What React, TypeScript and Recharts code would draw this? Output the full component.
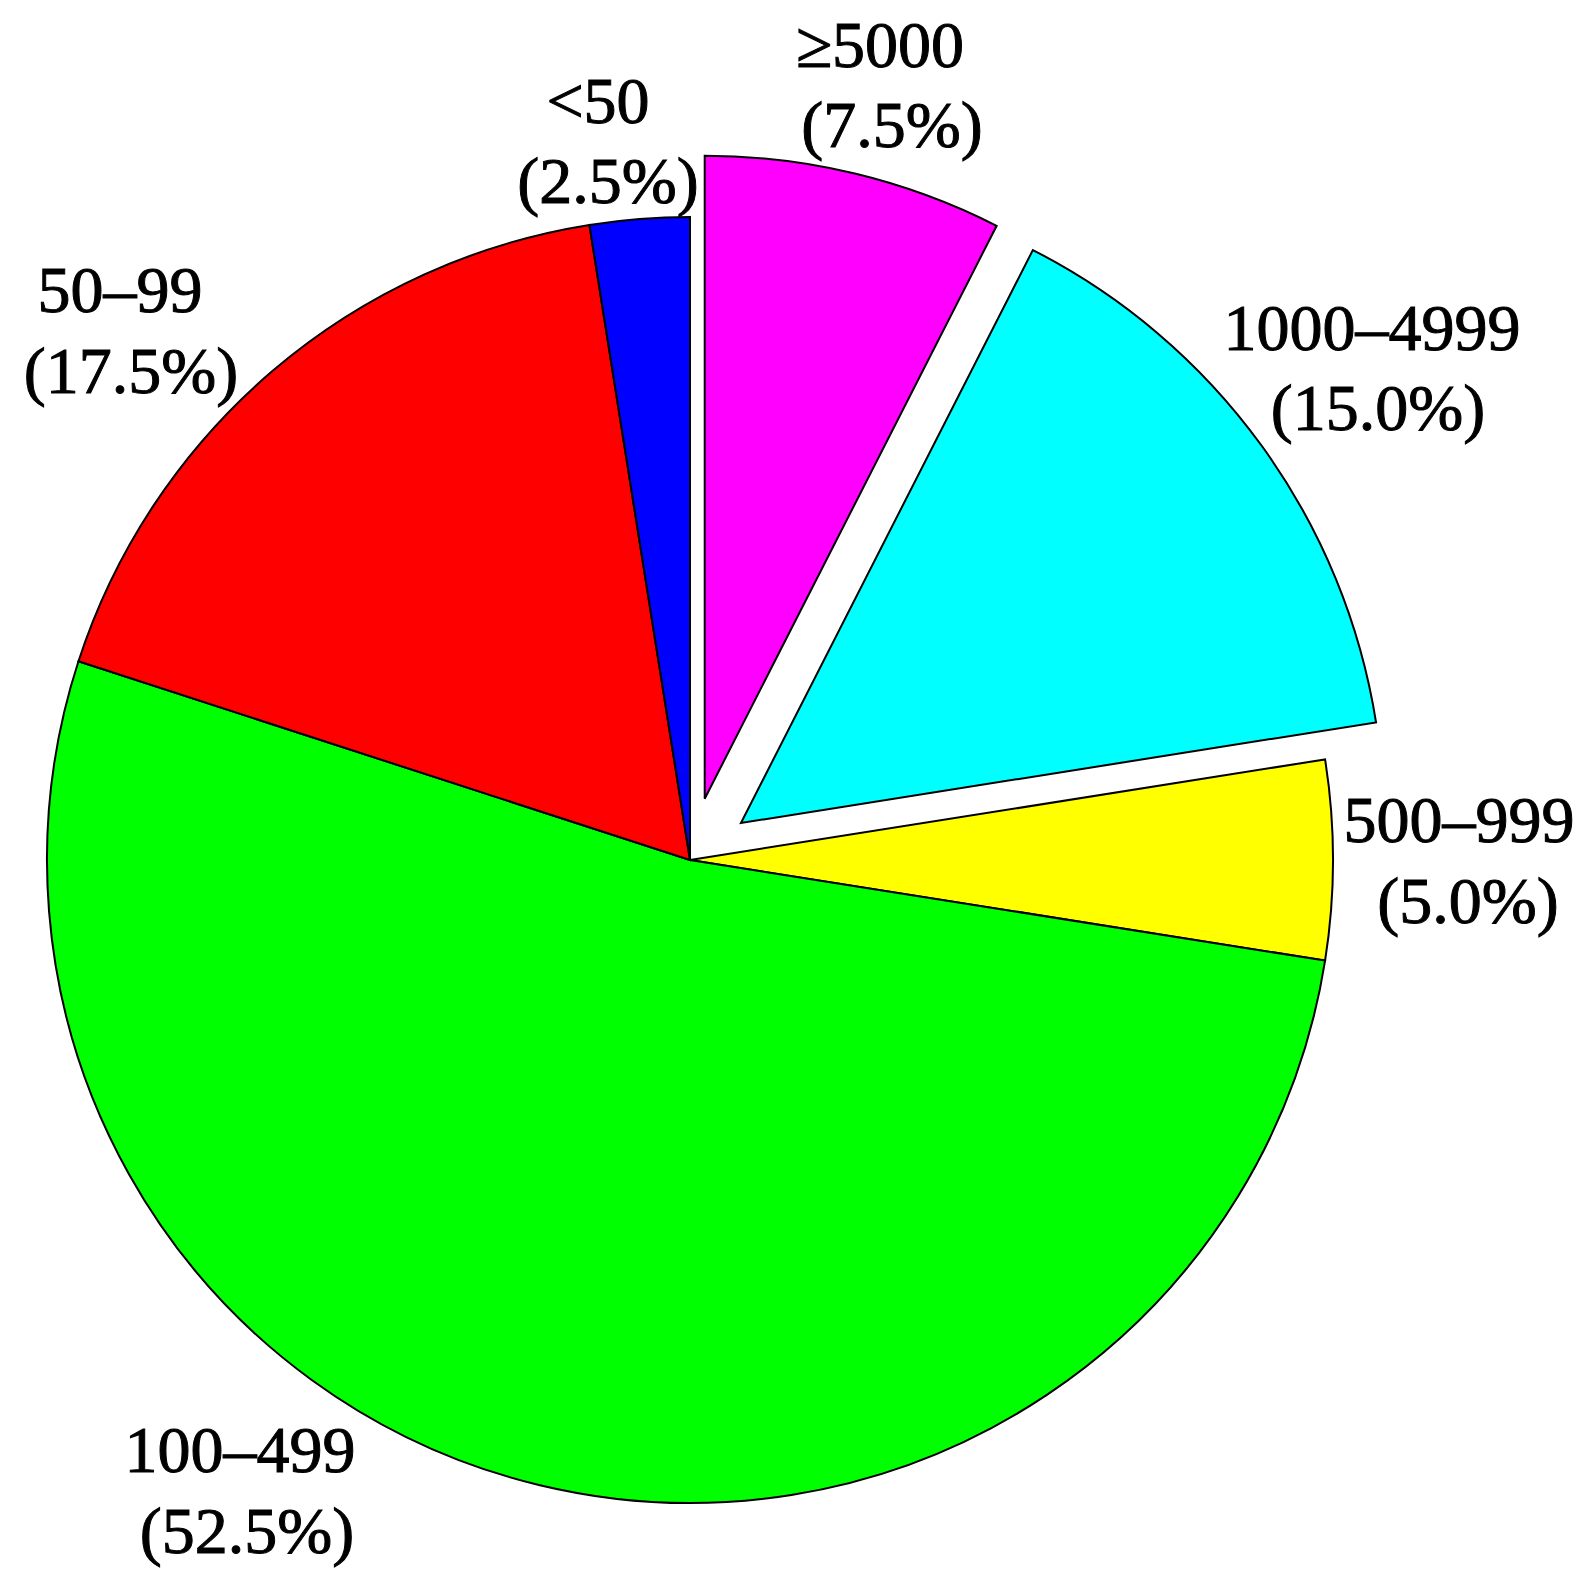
import React from "react";
import { PieChart, Pie, Cell } from "recharts";

const categories = ["≥5000", "1000–4999", "500–999", "100–499", "50–99", "<50"];
const shares = [7.5, 15.0, 5.0, 52.5, 17.5, 2.5];
const colors = ["#FF00FF", "#00FFFF", "#FFFF00", "#00FF00", "#FF0000", "#0000FF"];
const explodedIdx = [0, 1];

const data = categories.map((name, i) => ({ name, value: shares[i] }));

// layout constants
const W = 1591;
const H = 1577;
const CX = 690;
const CY = 860;
const R = 643;
const EXPLODE = 63;
const FONT = 66;
// label line positions relative to the pie centre: [x1, y1, x2, y2]
const labelLayout = [
  [190, -793, 202, -713],
  [682, -510, 688, -430],
  [769, -18, 778, 63],
  [-450, 612, -443, 693],
  [-570, -548, -559, -467],
  [-92, -737, -82, -657],
];

const total = shares.reduce((a, b) => a + b, 0);
const midAngle = (i: number) => {
  const before = shares.slice(0, i).reduce((a, b) => a + b, 0);
  return ((before + shares[i] / 2) / total) * 2 * Math.PI;
};

const renderLabel = (props: any) => {
  const { index, cx, cy, value } = props;
  const l = labelLayout[index];
  const pct = `(${((value / total) * 100).toFixed(1)}%)`;
  const style = {
    fontFamily: "'Liberation Serif', 'DejaVu Serif', serif",
    fontSize: FONT,
    fill: "#000",
    stroke: "#000",
    strokeWidth: 1,
  };
  return (
    <g key={`lbl-${index}`}>
      <text x={cx + l[0]} y={cy + l[1]} textAnchor="middle" style={style}>
        {categories[index]}
      </text>
      <text x={cx + l[2]} y={cy + l[3]} textAnchor="middle" style={style}>
        {pct}
      </text>
    </g>
  );
};

export default function App() {
  return (
    <div style={{ position: "absolute", left: 0, top: 0, width: W, height: H, background: "#fff" }}>
      <PieChart width={W} height={H} margin={{ top: 0, right: 0, bottom: 0, left: 0 }}>
        <Pie
          data={data}
          dataKey="value"
          nameKey="name"
          cx={CX}
          cy={CY}
          outerRadius={R}
          startAngle={90}
          endAngle={-270}
          isAnimationActive={false}
          label={renderLabel}
          labelLine={false}
        >
          {data.map((d, i) => (
            <Cell
              key={`base-${i}`}
              fill={explodedIdx.includes(i) ? "none" : colors[i]}
              stroke={explodedIdx.includes(i) ? "none" : "#000"}
              strokeWidth={2}
            />
          ))}
        </Pie>
        {explodedIdx.map((ei) => {
          const a = midAngle(ei);
          return (
            <Pie
              key={`exp-${ei}`}
              data={data}
              dataKey="value"
              nameKey="name"
              cx={CX + EXPLODE * Math.sin(a)}
              cy={CY - EXPLODE * Math.cos(a)}
              outerRadius={R}
              startAngle={90}
              endAngle={-270}
              isAnimationActive={false}
            >
              {data.map((d, i) => (
                <Cell
                  key={`e-${ei}-${i}`}
                  fill={i === ei ? colors[i] : "none"}
                  stroke={i === ei ? "#000" : "none"}
                  strokeWidth={2}
                />
              ))}
            </Pie>
          );
        })}
      </PieChart>
    </div>
  );
}
